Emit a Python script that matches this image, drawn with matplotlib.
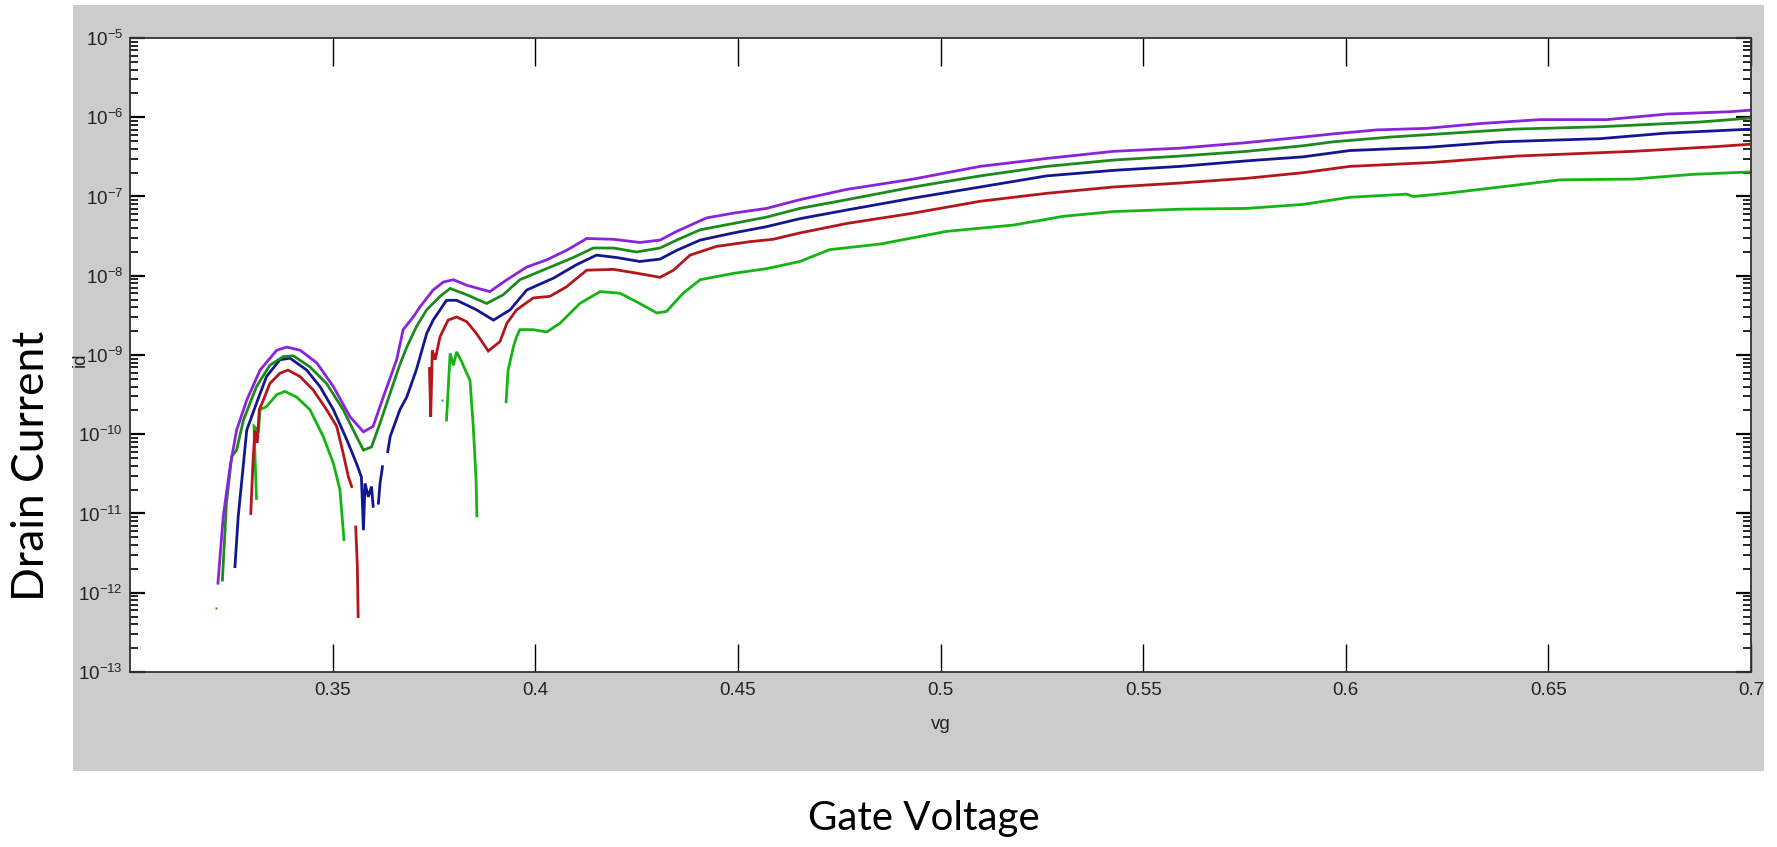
import numpy as np
import matplotlib

matplotlib.use("Agg")
import matplotlib.pyplot as plt
from matplotlib import font_manager
from matplotlib.patches import Rectangle
from matplotlib.ticker import FixedLocator, FuncFormatter, LogLocator, NullFormatter, NullLocator

nan = np.nan

# gate voltage (V) and log10 of drain current (A); nan = gap in trace
vg_purple = [0.3217, 0.3230, 0.3247, 0.3263, 0.3288, 0.3321, 0.3362, 0.3387, 0.3420, 0.3461,
             0.3502, 0.3543, 0.3576, 0.3600, 0.3625, 0.3658, 0.3674, 0.3699, 0.3716, 0.3748,
             0.3773, 0.3798, 0.3831, 0.3888, 0.3930, 0.3979, 0.4028, 0.4077, 0.4127, 0.4193,
             0.4258, 0.4308, 0.4349, 0.4423, 0.4489, 0.4571, 0.4653, 0.4769, 0.4933, 0.5098,
             0.5262, 0.5427, 0.5591, 0.5756, 0.5894, 0.5969, 0.6076, 0.6200, 0.6331, 0.6479,
             0.6644, 0.6792, 0.6948, 0.7000]
lid_purple = [-11.88, -11.04, -10.41, -9.95, -9.57, -9.19, -8.94, -8.90, -8.94, -9.10,
              -9.40, -9.78, -9.97, -9.90, -9.53, -9.06, -8.68, -8.52, -8.39, -8.18,
              -8.08, -8.05, -8.12, -8.20, -8.05, -7.89, -7.80, -7.68, -7.53, -7.54,
              -7.58, -7.55, -7.44, -7.27, -7.21, -7.15, -7.04, -6.91, -6.78, -6.62,
              -6.52, -6.43, -6.39, -6.32, -6.25, -6.21, -6.16, -6.14, -6.08, -6.03,
              -6.03, -5.96, -5.93, -5.91]

vg_dkgreen = [0.3228, 0.3238, 0.3251, 0.3263, 0.3280, 0.3312, 0.3345, 0.3378, 0.3403, 0.3444,
              0.3485, 0.3526, 0.3559, 0.3576, 0.3596, 0.3617, 0.3642, 0.3666, 0.3683, 0.3707,
              0.3732, 0.3765, 0.3790, 0.3831, 0.3880, 0.3921, 0.3962, 0.4028, 0.4094, 0.4143,
              0.4193, 0.4250, 0.4308, 0.4349, 0.4407, 0.4489, 0.4571, 0.4653, 0.4769, 0.4933,
              0.5098, 0.5262, 0.5427, 0.5591, 0.5756, 0.5894, 0.5969, 0.6110, 0.6233, 0.6414,
              0.6628, 0.6751, 0.6874, 0.7000]
lid_dkgreen = [-11.84, -10.87, -10.28, -10.20, -9.82, -9.40, -9.13, -9.02, -9.01, -9.15,
               -9.36, -9.69, -10.03, -10.20, -10.16, -9.86, -9.48, -9.12, -8.90, -8.64,
               -8.43, -8.26, -8.16, -8.24, -8.35, -8.24, -8.05, -7.91, -7.77, -7.65,
               -7.65, -7.70, -7.65, -7.55, -7.42, -7.34, -7.26, -7.15, -7.04, -6.88,
               -6.74, -6.62, -6.54, -6.49, -6.43, -6.36, -6.31, -6.25, -6.21, -6.15,
               -6.12, -6.09, -6.06, -6.01]

vg_navy = [0.3259, 0.3267, 0.3280, 0.3288, 0.3312, 0.3337, 0.3370, 0.3395, 0.3436, 0.3469,
           0.3502, 0.3535, 0.3559, 0.3571, 0.3576, 0.3580, 0.3588, 0.3596, 0.3600, nan,
           0.3613, 0.3617, 0.3623, nan,
           0.3636, 0.3642, 0.3666, 0.3683, 0.3707, 0.3732, 0.3748, 0.3781, 0.3806, 0.3831,
           0.3855, 0.3897, 0.3938, 0.3979, 0.4045, 0.4102, 0.4151, 0.4201, 0.4258, 0.4308,
           0.4349, 0.4407, 0.4489, 0.4571, 0.4653, 0.4769, 0.4933, 0.5098, 0.5262, 0.5427,
           0.5591, 0.5756, 0.5894, 0.6010, 0.6200, 0.6381, 0.6628, 0.6792, 0.7000]
lid_navy = [-11.67, -11.04, -10.37, -9.95, -9.61, -9.27, -9.06, -9.04, -9.19, -9.40,
            -9.69, -10.07, -10.37, -10.54, -11.21, -10.62, -10.79, -10.66, -10.91, nan,
            -10.87, -10.62, -10.41, nan,
            -10.22, -10.03, -9.69, -9.53, -9.18, -8.73, -8.56, -8.31, -8.31, -8.37,
            -8.43, -8.56, -8.43, -8.18, -8.03, -7.86, -7.74, -7.77, -7.82, -7.79,
            -7.68, -7.55, -7.46, -7.38, -7.28, -7.17, -7.02, -6.88, -6.74, -6.67,
            -6.62, -6.55, -6.50, -6.42, -6.38, -6.31, -6.27, -6.20, -6.15]

vg_red = [0.3298, 0.3303, 0.3308, 0.3314, 0.3319, 0.3329, 0.3345, 0.3370, 0.3390, 0.3419,
          0.3452, 0.3485, 0.3510, 0.3526, 0.3539, 0.3547, nan,
          0.3557, 0.3561, 0.3563, nan,
          0.3739, 0.3742, 0.3746, 0.3753, 0.3765, 0.3785, 0.3806, 0.3831, 0.3855, 0.3884,
          0.3913, 0.3930, 0.3954, 0.3995, 0.4036, 0.4077, 0.4127, 0.4193, 0.4242, 0.4308,
          0.4341, 0.4382, 0.4447, 0.4530, 0.4587, 0.4653, 0.4769, 0.4933, 0.5098, 0.5262,
          0.5427, 0.5591, 0.5756, 0.5894, 0.6010, 0.6216, 0.6422, 0.6710, 0.6915, 0.7000]
lid_red = [-11.00, -10.41, -9.95, -10.11, -9.69, -9.57, -9.36, -9.23, -9.19, -9.27,
           -9.44, -9.69, -9.90, -10.24, -10.54, -10.66, nan,
           -11.17, -11.67, -12.30, nan,
           -9.17, -9.78, -8.94, -9.06, -8.77, -8.56, -8.52, -8.58, -8.73, -8.95,
           -8.83, -8.60, -8.43, -8.28, -8.26, -8.14, -7.93, -7.92, -7.96, -8.02,
           -7.93, -7.74, -7.63, -7.57, -7.54, -7.46, -7.34, -7.21, -7.06, -6.96,
           -6.88, -6.83, -6.77, -6.70, -6.62, -6.57, -6.49, -6.43, -6.37, -6.34]

vg_ltgreen = [0.3312, 0.3308, 0.3306, 0.3317, 0.3321, 0.3337, 0.3362, 0.3382, 0.3411, 0.3444,
              0.3477, 0.3502, 0.3518, 0.3528, nan,
              0.3781, 0.3790, 0.3798, 0.3806, 0.3818, 0.3831, 0.3839, 0.3847, 0.3854, 0.3856, nan,
              0.3928, 0.3933, 0.3946, 0.3954, 0.3962, 0.3995, 0.4028, 0.4061, 0.4110, 0.4160,
              0.4209, 0.4258, 0.4300, 0.4324, 0.4365, 0.4407, 0.4489, 0.4571, 0.4653, 0.4702,
              0.4727, 0.4851, 0.5015, 0.5180, 0.5303, 0.5427, 0.5591, 0.5756, 0.5894, 0.6010,
              0.6150, 0.6167, 0.6249, 0.6381, 0.6529, 0.6710, 0.6858, 0.7000]
lid_ltgreen = [-10.81, -10.20, -9.90, -9.95, -9.69, -9.65, -9.50, -9.46, -9.53, -9.69,
               -10.03, -10.37, -10.70, -11.33, nan,
               -9.82, -8.98, -9.13, -8.96, -9.08, -9.23, -9.32, -9.90, -10.58, -11.03, nan,
               -9.59, -9.19, -8.90, -8.77, -8.68, -8.68, -8.71, -8.60, -8.35, -8.20,
               -8.22, -8.35, -8.47, -8.45, -8.22, -8.05, -7.97, -7.91, -7.82, -7.72,
               -7.67, -7.60, -7.44, -7.36, -7.25, -7.19, -7.16, -7.15, -7.10, -7.01,
               -6.97, -7.00, -6.96, -6.88, -6.79, -6.78, -6.72, -6.69]

# isolated single samples
vg_dots = [0.3212, 0.3769]
lid_dots = [-12.19, -9.57]

xtick_vals = [0.35, 0.4, 0.45, 0.5, 0.55, 0.6, 0.65, 0.7]
xtick_text = ["0.35", "0.4", "0.45", "0.5", "0.55", "0.6", "0.65", "0.7"]

series = [
    (vg_ltgreen, lid_ltgreen, "#14b414"),
    (vg_red, lid_red, "#b3161c"),
    (vg_navy, lid_navy, "#14168f"),
    (vg_dkgreen, lid_dkgreen, "#1d8a1d"),
    (vg_purple, lid_purple, "#8a24dc"),
]

# narrow sans for the matlab-style tick text, whichever is installed
have = {f.name for f in font_manager.fontManager.ttflist}
narrow = [n for n in ["Liberation Sans Narrow", "DejaVu Sans Condensed", "Liberation Sans"] if n in have]
tick_font = narrow[:1] + ["DejaVu Sans"]
big_font = ["Lato", "DejaVu Sans"]
TS = 13.5

fig = plt.figure(figsize=(17.77, 8.47), dpi=100)
fig.patch.set_facecolor("white")
# grey matlab figure panel
fig.add_artist(Rectangle((73 / 1777, 1 - 771 / 847), (1764 - 73) / 1777, (771 - 5) / 847,
                         transform=fig.transFigure, facecolor="#cccccc", edgecolor="none", zorder=0))

ax = fig.add_axes([130 / 1777, 1 - 672 / 847, (1751 - 130) / 1777, (672 - 38) / 847])
ax.set_facecolor("white")

for vg, lid, col in series:
    ax.plot(vg, 10.0 ** np.array(lid), color=col, lw=2.0, solid_joinstyle="miter")
ax.plot(vg_dots, 10.0 ** np.array(lid_dots), linestyle="none", marker="s", ms=2,
        color="#14b414", mec="none")

ax.set_yscale("log")
ax.set_xlim(0.3, 0.7)
ax.set_ylim(1e-13, 1e-5)

ax.xaxis.set_major_locator(FixedLocator(xtick_vals))
ax.set_xticklabels(xtick_text, family=tick_font, fontsize=TS, color="#222222")
ax.xaxis.set_minor_locator(NullLocator())

ax.yaxis.set_major_locator(LogLocator(base=10, numticks=30))
ax.yaxis.set_minor_locator(LogLocator(base=10, subs=np.arange(2, 10), numticks=30))
ax.yaxis.set_minor_formatter(NullFormatter())
ax.yaxis.set_major_formatter(FuncFormatter(lambda v, p: r"$\mathregular{10^{%d}}$" % round(np.log10(v))))

ax.tick_params(axis="x", which="major", direction="in", length=20, width=1.0,
               top=True, bottom=True, pad=7, labelsize=TS, labelcolor="#222222")
ax.tick_params(axis="y", which="major", direction="in", length=11, width=1.6,
               left=True, right=True, pad=5, labelsize=TS, labelcolor="#222222")
ax.tick_params(axis="y", which="minor", direction="in", length=6, width=1.2,
               left=True, right=True)
for lab in ax.get_yticklabels() + ax.get_xticklabels():
    lab.set_family(tick_font)
for sp in ax.spines.values():
    sp.set_linewidth(1.3)
    sp.set_color("#333333")

ax.set_xlabel("vg", family=tick_font, fontsize=TS, color="#222222")
ax.xaxis.set_label_coords(0.5, -0.070)
ax.set_ylabel("id", family=tick_font, fontsize=TS, color="#222222", va="center")
ax.yaxis.set_label_coords((80 - 130) / 1621, (672 - 360) / 634)

fig.text(924 / 1777, 1 - 818 / 847, "Gate Voltage", family=big_font, fontsize=29,
         ha="center", va="center", color="black")
fig.text(32 / 1777, 1 - 466 / 847, "Drain Current", family=big_font, fontsize=32,
         rotation=90, ha="center", va="center", color="black")

fig.savefig("out.png", dpi=100)
